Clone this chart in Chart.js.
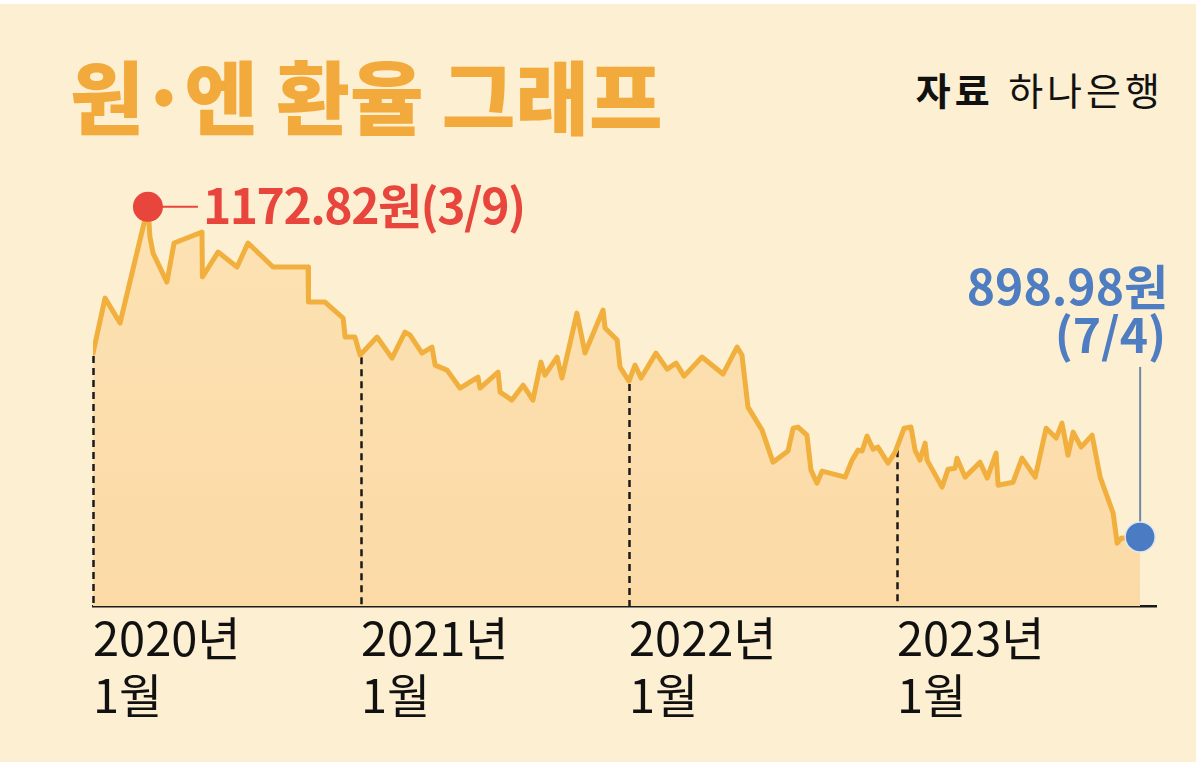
<!DOCTYPE html>
<html><head><meta charset="utf-8">
<script src="https://cdn.jsdelivr.net/npm/chart.js@4"></script>
<style>
html,body{margin:0;padding:0;background:#fff;}
#wrap{position:relative;width:1203px;height:767px;overflow:hidden;background:#fff;}
#bg{position:absolute;left:0;top:4px;width:1196px;height:758px;background:#fdefd2;}
#title{position:absolute;left:70px;top:53px;font-family:"Noto Sans CJK KR";font-weight:900;font-size:80px;line-height:1;color:#f3aa3c;letter-spacing:0px;white-space:nowrap;}
#title .dot{margin:0 -4px;}
#source{position:absolute;right:39px;top:70px;font-family:"Noto Sans CJK KR";font-size:38px;line-height:1;color:#111;letter-spacing:4px;word-spacing:2px;white-space:nowrap;}
#source b{font-weight:700;}
canvas{position:absolute;left:0;top:0;}
</style></head>
<body><div id="wrap"><div id="bg"></div>
<div id="title">원<span class="dot">·</span>엔 환율 그래프</div>
<div id="source"><b>자료</b> 하나은행</div>
<canvas id="c" width="1203" height="767"></canvas></div>
<script>
// months since January 2020
const months = [0,0.54,1.21,2.46,2.55,2.69,3.31,3.63,4.88,4.9,
5.6,6.45,6.94,8.06,9.63,9.65,10.39,11.2,11.29,11.73,
11.96,12.72,13.39,13.97,14.2,14.73,15.18,15.32,15.85,16.44,
17.24,17.33,18.14,18.23,18.76,19.26,19.7,20.06,20.24,20.78,
21.0,21.67,22.03,22.84,22.93,23.47,23.6,24.0,24.27,24.54,
25.21,25.71,26.11,26.47,27.27,28.21,28.84,29.06,29.33,29.96,
30.45,31.12,31.35,31.57,31.97,32.15,32.42,32.65,33.68,33.99,
34.26,34.44,34.66,34.93,35.15,35.6,35.92,36.32,36.63,36.81,
37.03,37.26,37.35,38.02,38.29,38.6,38.69,39.05,39.72,40.04,
40.44,40.53,41.2,41.6,42.19,42.68,43.13,43.39,43.66,43.89,
44.25,44.74,45.1,45.68,45.86,46.04,46.89];
// KRW per 100 JPY
const rates = [1051.5,1097.1,1076.4,1172.82,1147.8,1134.5,1110.4,1142.8,1151.9,1114.6,
1135.3,1122.9,1142.8,1122.9,1122.9,1093.8,1093.8,1080.6,1064.8,1064.8,
1049.8,1064.8,1047.3,1068.9,1066.4,1051.5,1056.5,1041.5,1037.4,1022.4,
1031.6,1022.4,1035.7,1019.1,1012.5,1024.9,1012.5,1044.0,1033.2,1048.2,
1030.8,1084.7,1051.5,1087.2,1072.3,1062.3,1039.9,1028.3,1041.5,1030.8,
1051.5,1038.2,1043.2,1032.4,1048.2,1034.1,1056.5,1049.8,1006.7,987.6,
961.0,970.2,989.2,990.1,983.4,954.4,943.6,953.6,948.6,962.7,
971.0,970.2,982.6,971.8,973.5,960.2,969.3,989.2,990.1,971.0,
962.7,976.8,962.7,940.3,955.2,956.0,964.3,948.6,961.0,947.8,
968.5,941.9,944.4,964.3,948.6,989.2,981.0,993.4,966.8,985.9,
973.5,983.4,948.6,918.7,893.8,897.9,898.98];
const yearTicks = [0,12,24,36];
const tickLabels = [["2020년","1월"],["2021년","1월"],["2022년","1월"],["2023년","1월"]];
const peakLabel = "1172.82원(3/9)";
const lastLabel = ["898.98원","(7/4)"];

function valueAt(t){
  for(let i=0;i<months.length-1;i++){
    if(t>=months[i] && t<=months[i+1]){
      const f=(t-months[i])/((months[i+1]-months[i])||1);
      return rates[i]+f*(rates[i+1]-rates[i]);
    }
  }
  return rates[0];
}

const annot = {
  id:'annot',
  beforeDatasetsDraw(chart){
    const {ctx, chartArea, scales:{x,y}} = chart;
    ctx.save();
    ctx.strokeStyle='#1a1a1a'; ctx.lineWidth=2.5; ctx.setLineDash([7,5]);
    yearTicks.forEach(t=>{
      const px=Math.round(x.getPixelForValue(t))+0.5;
      const py=y.getPixelForValue(valueAt(t))+3;
      ctx.beginPath(); ctx.moveTo(px,py); ctx.lineTo(px,chartArea.bottom); ctx.stroke();
    });
    ctx.restore();
  },
  afterDatasetsDraw(chart){
    const {ctx, scales:{x,y}} = chart;
    ctx.save();
    const pi = rates.indexOf(Math.max(...rates));
    const px = x.getPixelForValue(months[pi]), py = y.getPixelForValue(rates[pi]);
    ctx.strokeStyle='#e8453c'; ctx.lineWidth=2;
    ctx.beginPath(); ctx.moveTo(px+12,py); ctx.lineTo(px+50,py); ctx.stroke();
    ctx.fillStyle='#e8453c';
    ctx.beginPath(); ctx.arc(px,py,15,0,Math.PI*2); ctx.fill();
    ctx.font='bold 48px "Noto Sans CJK KR"'; ctx.textBaseline='middle'; ctx.textAlign='left';
    ctx.letterSpacing='-1.5px';
    ctx.fillText(peakLabel, px+55, py-1);

    const li = rates.length-1;
    const lx = x.getPixelForValue(months[li]), ly = y.getPixelForValue(rates[li]);
    ctx.strokeStyle='#7189a6'; ctx.lineWidth=2;
    ctx.beginPath(); ctx.moveTo(lx,ly-10); ctx.lineTo(lx,ly-170); ctx.stroke();
    ctx.fillStyle='#4b7cc3'; ctx.strokeStyle='#dfe6ee'; ctx.lineWidth=1.5;
    ctx.beginPath(); ctx.arc(lx,ly,15,0,Math.PI*2); ctx.fill(); ctx.stroke();
    ctx.fillStyle='#4e7dc1';
    ctx.letterSpacing='0px';
    ctx.font='bold 48px "Noto Sans CJK KR"'; ctx.textAlign='right';
    ctx.fillText(lastLabel[0], lx+28, ly-250);
    ctx.fillText(lastLabel[1], lx+26, ly-202);
    ctx.restore();
  }
};

new Chart(document.getElementById('c'), {
  type:'line',
  data:{datasets:[{
    data: months.map((m,i)=>({x:m,y:rates[i]})),
    borderColor:'#f1b03e', borderWidth:5, borderJoinStyle:'round', borderCapStyle:'round',
    pointRadius:0, tension:0, fill:'start',
    backgroundColor:(c)=>{
      const ch=c.chart, a=ch.chartArea; if(!a) return '#fbdcaa';
      const g=ch.ctx.createLinearGradient(0,a.top,0,a.bottom);
      g.addColorStop(0,'#fde3b5'); g.addColorStop(1,'#fbdaa6'); return g;
    }
  }]},
  options:{
    responsive:false, animation:false,
    layout:{padding:{left:93,right:47,top:150,bottom:40}},
    plugins:{legend:{display:false},tooltip:{enabled:false},filler:{drawTime:'beforeDatasetsDraw'}},
    scales:{
      x:{type:'linear',min:0,max:47.6,
        afterBuildTicks:(s)=>{s.ticks=yearTicks.map(v=>({value:v}));},
        grid:{display:false,drawTicks:false},
        border:{display:true,color:'#1a1a1a',width:2.5},
        ticks:{autoSkip:false,maxRotation:0,align:'start',padding:4,color:'#111',
          font:{family:'"Noto Sans CJK KR"',size:47,lineHeight:1.2},
          callback:(v)=>tickLabels[yearTicks.indexOf(v)]}},
      y:{display:false,min:841.5,max:1220}
    }
  },
  plugins:[annot]
});
</script></body></html>
